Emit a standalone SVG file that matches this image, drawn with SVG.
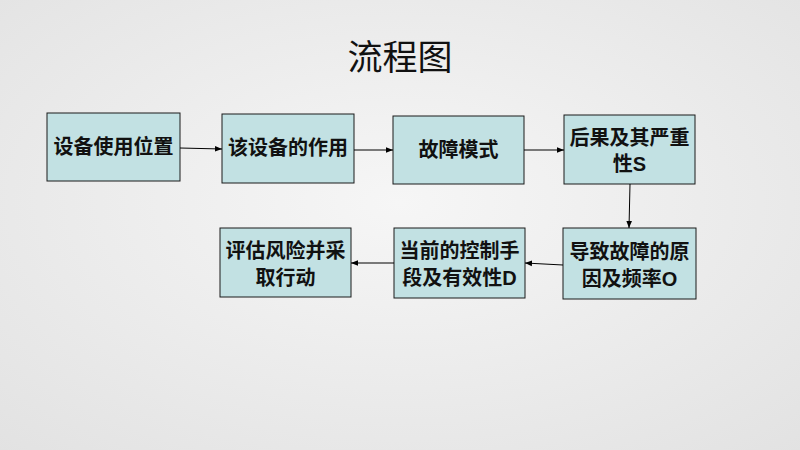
<svg xmlns="http://www.w3.org/2000/svg" width="800" height="450" viewBox="0 0 800 450">
<defs>
<radialGradient id="bg" cx="50%" cy="45%" r="75%">
<stop offset="0" stop-color="#f6f6f6"/>
<stop offset="1" stop-color="#e2e2e2"/>
</radialGradient>
<marker id="ah" viewBox="0 0 10 10" refX="10" refY="5" markerWidth="7" markerHeight="7" orient="auto" markerUnits="userSpaceOnUse">
<path d="M0,1 L10,5 L0,9 z" fill="#000"/>
</marker>
<style>
.box{fill:#c2e1e3;stroke:#1a1a1a;stroke-width:1}
.t{font-family:"Liberation Sans","Noto Sans CJK SC",sans-serif;font-size:20px;font-weight:bold;fill:#111;text-anchor:middle}
.c{stroke:#000;stroke-width:1;fill:none;marker-end:url(#ah)}
</style>
</defs>
<rect width="800" height="450" fill="url(#bg)"/>
<text x="400" y="70" font-family="Noto Sans CJK SC, sans-serif" font-size="35" text-anchor="middle" fill="#111">流程图</text>
<g id="n1"><rect class="box" x="47" y="113" width="133" height="68"/><text class="t" x="113.5" y="154">设备使用位置</text></g>
<g id="n2"><rect class="box" x="222" y="114" width="132" height="69"/><text class="t" x="288" y="155">该设备的作用</text></g>
<g id="n3"><rect class="box" x="393" y="116" width="131" height="68"/><text class="t" x="458.5" y="157">故障模式</text></g>
<g id="n4"><rect class="box" x="564" y="115" width="131" height="69"/><text class="t" x="629.5" y="145">后果及其严重</text><text class="t" x="629.5" y="171">性S</text></g>
<g id="n5"><rect class="box" x="563" y="228" width="133" height="71"/><text class="t" x="629.5" y="259">导致故障的原</text><text class="t" x="629.5" y="286">因及频率O</text></g>
<g id="n6"><rect class="box" x="394" y="228" width="131" height="70"/><text class="t" x="459.5" y="258">当前的控制手</text><text class="t" x="459.5" y="285">段及有效性D</text></g>
<g id="n7"><rect class="box" x="220" y="228" width="131" height="69"/><text class="t" x="285.5" y="258">评估风险并采</text><text class="t" x="285.5" y="285">取行动</text></g>
<g id="connectors">
<line class="c" x1="180" y1="148" x2="222" y2="149"/>
<line class="c" x1="354" y1="150" x2="393" y2="150"/>
<line class="c" x1="524" y1="150" x2="564" y2="150"/>
<line class="c" x1="630" y1="184" x2="629" y2="228"/>
<line class="c" x1="563" y1="265" x2="525" y2="263"/>
<line class="c" x1="394" y1="263" x2="351" y2="263"/>
</g>
</svg>
